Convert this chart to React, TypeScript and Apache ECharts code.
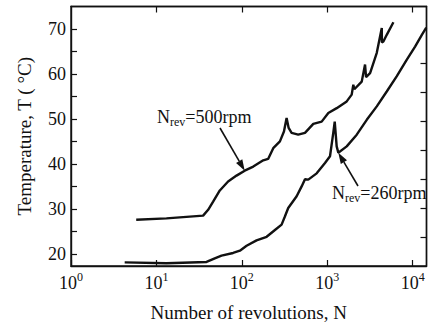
import React, { useEffect, useRef } from "react";
import * as echarts from "echarts";

// Decade ticks on the log x-axis and temperature ticks on the y-axis
const decades = [1, 10, 100, 1000, 10000];
const topTicks = [10, 100, 1000, 10000];
const tempLabels = [20, 30, 40, 50, 60, 70];
const tempTicks = [20, 25, 30, 35, 40, 45, 50, 55, 60, 65, 70];
const rightTicks = [23.8, 30.2, 36.7, 43.1, 49.4, 55.9, 62.4];

// N_rev = 500 rpm
const rev500N = [5.8, 13.1, 35.2, 40.3, 46.1, 55.2, 69, 86.6, 108, 136, 178, 203, 233, 279, 311, 334, 353, 382, 457, 548, 686, 860, 1028, 1289, 1688, 1931, 2017, 2074, 2530, 2767, 2843, 3170, 3796, 4343, 4360, 4538, 4966, 5943];
const rev500T = [27.6, 27.9, 28.5, 29.8, 31.6, 34.1, 36.1, 37.4, 38.5, 39.4, 40.8, 41.1, 43.5, 45.0, 47.2, 50.2, 48.0, 46.9, 46.5, 46.9, 48.9, 49.4, 51.3, 52.4, 53.9, 55.4, 57.6, 56.6, 58.3, 62.1, 59.3, 60.2, 64.7, 70.2, 67.0, 67.2, 68.7, 71.5];

// N_rev = 260 rpm
const rev260N = [4.25, 13.1, 38.6, 48.2, 57.8, 79, 94.8, 113.6, 148.6, 195, 244, 292, 319, 349, 438, 501, 548, 599, 751, 940, 1076, 1175, 1222, 1288, 1346, 1688, 2212, 2897, 3796, 4966, 6516, 8534, 10660, 12790, 14400];
const rev260T = [18.1, 17.9, 18.2, 19.0, 19.6, 20.2, 20.7, 21.8, 23.0, 23.8, 25.3, 26.5, 28.3, 30.2, 32.8, 35.0, 36.6, 36.5, 37.9, 40.2, 41.7, 46.9, 49.4, 43.9, 42.5, 43.9, 46.5, 49.8, 52.8, 56.1, 59.5, 63.2, 66.1, 68.7, 70.3];

const FONT = "'Liberation Serif', 'Times New Roman', serif";
const INK = "#111";

const pairs = (xs: number[], ys: number[]) => xs.map((x, i) => [x, ys[i]]);

function arrow(tail: number[], tip: number[]) {
  const dx = tip[0] - tail[0];
  const dy = tip[1] - tail[1];
  const len = Math.hypot(dx, dy);
  const ux = dx / len;
  const uy = dy / len;
  const headLen = 11;
  const headW = 3.6;
  const bx = tip[0] - ux * headLen;
  const by = tip[1] - uy * headLen;
  return [
    {
      type: "line",
      shape: { x1: tail[0], y1: tail[1], x2: bx, y2: by },
      style: { stroke: INK, lineWidth: 1.6 },
    },
    {
      type: "polygon",
      shape: {
        points: [
          [tip[0], tip[1]],
          [bx - uy * headW, by + ux * headW],
          [bx + uy * headW, by - ux * headW],
        ],
      },
      style: { fill: INK },
    },
  ];
}

function label(x: number, y: number, speed: string) {
  return {
    type: "text",
    x,
    y,
    style: {
      text: `{n|N}{s|rev}{n|=${speed}rpm}`,
      verticalAlign: "middle",
      rich: {
        n: { fontFamily: FONT, fontSize: 18, fill: INK, lineHeight: 22 },
        s: { fontFamily: FONT, fontSize: 12, fill: INK, lineHeight: 22, padding: [10, 0, 0, 0] },
      },
    },
  };
}

export default function App() {
  const ref = useRef<HTMLDivElement>(null);

  useEffect(() => {
    if (!ref.current) return;
    const chart = echarts.init(ref.current, null, { renderer: "svg" });

    const lineSeries = (name: string, data: number[][]) => ({
      name,
      type: "line",
      data,
      showSymbol: false,
      symbol: "none",
      lineStyle: { color: INK, width: 2.4 },
      xAxisIndex: 0,
      yAxisIndex: 0,
    });

    chart.setOption({
      animation: false,
      backgroundColor: "#fff",
      grid: {
        left: 71,
        right: 3.5,
        top: 6.5,
        bottom: 63,
        show: true,
        borderColor: INK,
        borderWidth: 1.4,
      },
      xAxis: [
        {
          type: "log",
          logBase: 10,
          min: 1,
          max: 14500,
          position: "bottom",
          axisLine: { lineStyle: { color: INK, width: 1.4 } },
          axisTick: { inside: true, length: 6, customValues: decades, lineStyle: { color: INK, width: 1.2 } },
          minorTick: { show: false },
          splitLine: { show: false },
          axisLabel: {
            customValues: decades,
            margin: 3,
            showMaxLabel: true,
            formatter: (v: number) => `{b|10}{s|${Math.round(Math.log10(v))}}`,
            rich: {
              b: { fontFamily: FONT, fontSize: 18, color: INK, lineHeight: 22, padding: [6, 0, 0, 0] },
              s: { fontFamily: FONT, fontSize: 12, color: INK, lineHeight: 22, padding: [0, 0, 6, 0] },
            },
          },
          name: "Number of revolutions, N",
          nameLocation: "middle",
          nameGap: 37,
          nameTextStyle: { fontFamily: FONT, fontSize: 19, color: INK },
        },
        {
          type: "log",
          logBase: 10,
          min: 1,
          max: 14500,
          position: "top",
          axisLine: { show: true, lineStyle: { color: INK, width: 1.4 } },
          axisTick: { inside: true, length: 6, customValues: topTicks, lineStyle: { color: INK, width: 1.2 } },
          axisLabel: { show: false },
          splitLine: { show: false },
        },
      ],
      yAxis: [
        {
          type: "value",
          min: 17.3,
          max: 75,
          position: "left",
          axisLine: { show: true, lineStyle: { color: INK, width: 1.4 } },
          axisTick: { show: true, inside: true, length: 6, customValues: tempTicks, lineStyle: { color: INK, width: 1.2 } },
          splitLine: { show: false },
          axisLabel: {
            customValues: tempLabels,
            margin: 5,
            fontFamily: FONT,
            fontSize: 18,
            color: INK,
          },
          name: "Temperature, T ( °C)",
          nameLocation: "middle",
          nameRotate: 90,
          nameGap: 37,
          nameTextStyle: { fontFamily: FONT, fontSize: 19, color: INK },
        },
        {
          type: "value",
          min: 17.3,
          max: 75,
          position: "right",
          axisLine: { show: true, lineStyle: { color: INK, width: 1.4 } },
          axisTick: { show: true, inside: true, length: 6, customValues: rightTicks, lineStyle: { color: INK, width: 1.2 } },
          axisLabel: { show: false },
          splitLine: { show: false },
        },
      ],
      series: [
        lineSeries("N_rev=500rpm", pairs(rev500N, rev500T)),
        lineSeries("N_rev=260rpm", pairs(rev260N, rev260T)),
      ],
    });

    // Annotation arrows point at positions on each curve
    const toPx = (p: number[]) =>
      chart.convertToPixel({ xAxisIndex: 0, yAxisIndex: 0 }, p) as number[];
    const tipA = toPx([108, 38.5]);
    const tipB = toPx([1346, 42.5]);

    chart.setOption({
      graphic: [
        ...arrow([220, 128], tipA),
        ...arrow([358, 186], tipB),
        label(157, 117, "500"),
        label(332, 193, "260"),
      ],
    });

    return () => chart.dispose();
  }, []);

  return (
    <div
      ref={ref}
      style={{ position: "fixed", left: 0, top: 0, width: 430, height: 329 }}
    />
  );
}
